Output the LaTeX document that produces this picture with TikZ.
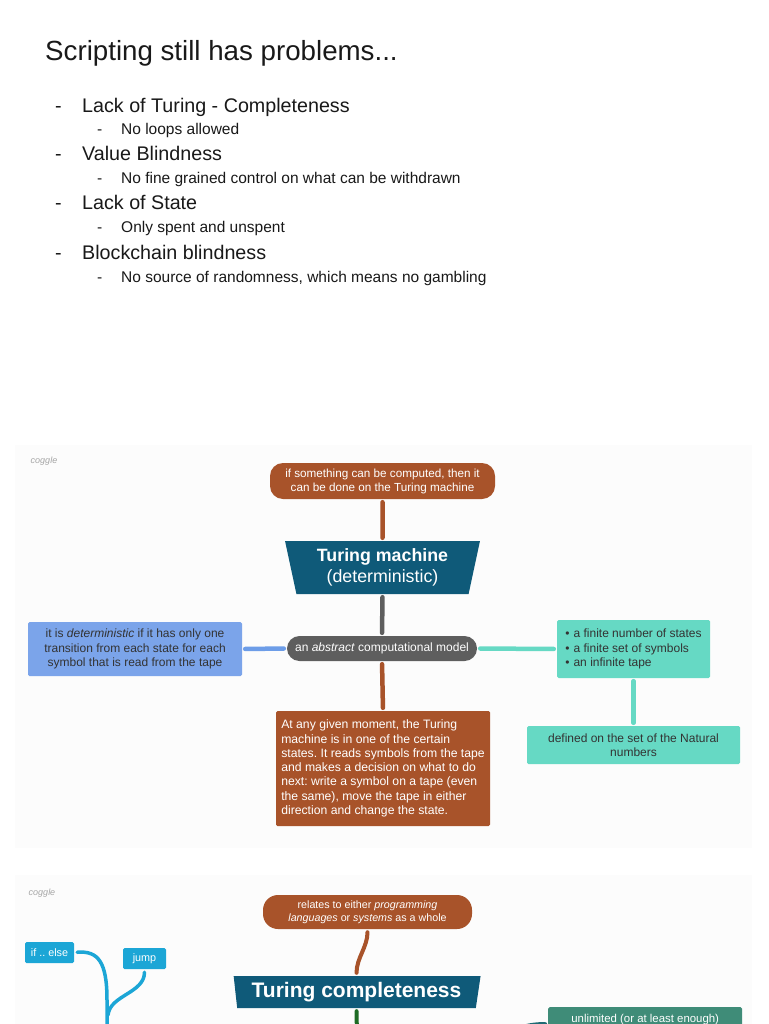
\documentclass[tikz,border=0pt]{standalone}
\usepackage{fontspec}
\setmainfont{Liberation Sans}
\frenchspacing
\usepackage{xcolor}
\definecolor{cgbrown}{HTML}{A8532A}
\definecolor{cgnavy}{HTML}{0F5A79}
\definecolor{cggray}{HTML}{5E5E5E}
\definecolor{cgblue}{HTML}{7BA4EA}
\definecolor{cgbluedge}{HTML}{6D9DE8}
\definecolor{cgteal}{HTML}{66D9C4}
\definecolor{cgcyan}{HTML}{1CA6D6}
\definecolor{cgsea}{HTML}{3F8C78}
\definecolor{cggreen}{HTML}{1E6B24}
\definecolor{cgdeep}{HTML}{1F6B74}
\definecolor{cgpanel}{HTML}{FCFCFC}
\definecolor{cgtext}{HTML}{333333}
\usetikzlibrary{shapes.geometric}
\newcommand{\fsz}[2]{\fontsize{#1}{#2}\selectfont}
\tikzset{
  every picture/.style={line cap=round, line join=round},
  headline/.style={anchor=base west, inner sep=0pt, font=\fsz{27.7}{32}, text=black!90},
  topic/.style={anchor=base west, inner sep=0pt, font=\fsz{19.7}{22}, text=black!90},
  note/.style={anchor=base west, inner sep=0pt, font=\fsz{15.5}{18}, text=black!90},
  logo/.style={font=\fsz{9}{10}\itshape, text=black!35, inner sep=0pt},
  panel/.style={fill=cgpanel, draw=none},
  box/.style={font=\fsz{12}{14.5}, align=center, inner sep=0pt, rounded corners=1.5pt},
  pill/.style={box, rounded corners=13pt, fill=cgbrown, text=white},
  hub/.style={trapezium, trapezium stretches=true, shape border rotate=180,
    fill=cgnavy, text=white, align=center, inner sep=0pt},
  link/.style={line width=4.5pt, shorten >=3pt, shorten <=3pt},
}
\begin{document}
\begin{tikzpicture}[x=1pt, y=-1pt]
\fill[white] (0,0) rectangle (768,1024);
\useasboundingbox (0,0) rectangle (768,1024);
% slide text
\node[headline] (title) at (45,60.7) {Scripting still has problems...};
\foreach \y/\t [count=\n] in {112.5/{Lack of Turing - Completeness}, 161/{Value Blindness},
    210/{Lack of State}, 259/{Blockchain blindness}} {
  \node[topic] (dasha-\n) at (55,\y) {-};
  \node[topic] (topic-\n) at (82,\y) {\t};
}
\foreach \y/\t [count=\n] in {135/{No loops allowed}, 184/{No fine grained control on what can be withdrawn},
    233/{Only spent and unspent}, 282/{No source of randomness, which means no gambling}} {
  \node[note] (dashb-\n) at (97,\y) {-};
  \node[note] (note-\n) at (121,\y) {\t};
}
% first map
\fill[panel] (15,445) rectangle (752,848);
\node[logo] (logoa) at (44,461) {coggle};
\node[pill, font=\fsz{11.7}{14}, minimum width=225, minimum height=36] (cond) at (382.5,481)
  {if something can be computed, then it\\can be done on the Turing machine};
\node[hub, font=\fsz{17.8}{21}, minimum width=195, minimum height=53,
  trapezium left angle=77, trapezium right angle=77] (tmach) at (382.5,567.5)
  {{\bfseries Turing machine}\\(deterministic)};
\node[pill, fill=cggray, rounded corners=12.5pt, minimum width=190, minimum height=25] (model) at (382,648.5)
  {an \textit{abstract} computational model};
\node[box, fill=cgblue, text=cgtext, minimum width=214, minimum height=54] (determ) at (135,649)
  {it is \textit{deterministic} if it has only one\\transition from each state for each\\symbol that is read from the tape};
\node[box, fill=cgteal, text=cgtext, align=left, minimum width=153, minimum height=58] (parts) at (633.5,649)
  {\textbullet\hspace{4pt}a finite number of states\\\textbullet\hspace{4pt}a finite set of symbols\\\textbullet\hspace{4pt}an infinite tape};
\node[box, fill=cgteal, text=cgtext, minimum width=213, minimum height=38] (natural) at (633.5,745)
  {defined on the set of the Natural\\numbers};
\node[box, fill=cgbrown, text=white, align=left, font=\fsz{12.2}{14.3}, minimum width=214, minimum height=115] (moment) at (383,768.5)
  {At any given moment, the Turing\\machine is in one of the certain\\states. It reads symbols from the tape\\and makes a decision on what to do\\next: write a symbol on a tape (even\\the same), move the tape in either\\direction and change the state.};
\draw[link, cgbrown] (tmach.north) -- (cond.south);
\draw[link, cggray] (tmach.south) -- (model.north);
\draw[link, cgbluedge] (model.west) -- (determ.east);
\draw[link, cgteal] (model.east) -- (parts.west);
\draw[link, cgteal] (parts.south) -- (natural.north);
\draw[link, cgbrown] (model.south) -- (moment.north);
% second map
\fill[panel] (15,875) rectangle (752,1030);
\node[logo] (logob) at (42,893) {coggle};
\node[pill, font=\fsz{10.7}{13}, rounded corners=15pt, minimum width=209, minimum height=34] (relates) at (367.5,912)
  {relates to either \textit{programming}\\\textit{languages} or \textit{systems} as a whole};
\node[hub, font=\fsz{21}{24}\bfseries, minimum width=247, minimum height=32,
  trapezium left angle=78, trapezium right angle=81] (tcomp) at (356.5,992) {Turing completeness};
\node[box, fill=cgcyan, text=white, font=\fsz{10.8}{12}, minimum width=49, minimum height=21] (ifelse) at (49.5,952.5) {if .. else};
\node[box, fill=cgcyan, text=white, font=\fsz{10.8}{12}, minimum width=43, minimum height=21] (jump) at (144.5,958.5) {jump};
\node[box, fill=cgsea, text=white, font=\fsz{11.4}{12}, anchor=north west, minimum width=194, minimum height=24] (unlim) at (548,1007)
  {unlimited (or at least enough)};
\coordinate (cyanbend) at (107,1000);
\coordinate (cyanroot) at (107,1040);
\coordinate (greenroot) at (357,1040);
\coordinate (deeproot) at (490,1050);
\draw[link, cgbrown, line width=4pt] (relates.south) .. controls +(0,18) and +(0,-18) .. (tcomp.north);
\draw[link, cggreen, line width=4pt] (tcomp.south) -- (greenroot);
\draw[link, cgcyan, line width=3.5pt] (ifelse.east) .. controls +(24,-2) and (107,962) .. (cyanbend) -- (cyanroot);
\draw[link, cgcyan, line width=3.5pt, shorten >=0pt] (jump.south) .. controls +(0,24) and (110,995) .. (108,1015);
\draw[link, cgdeep] (deeproot) .. controls +(20,-22) and +(-20,0) .. (unlim.183);
\end{tikzpicture}
\end{document}
